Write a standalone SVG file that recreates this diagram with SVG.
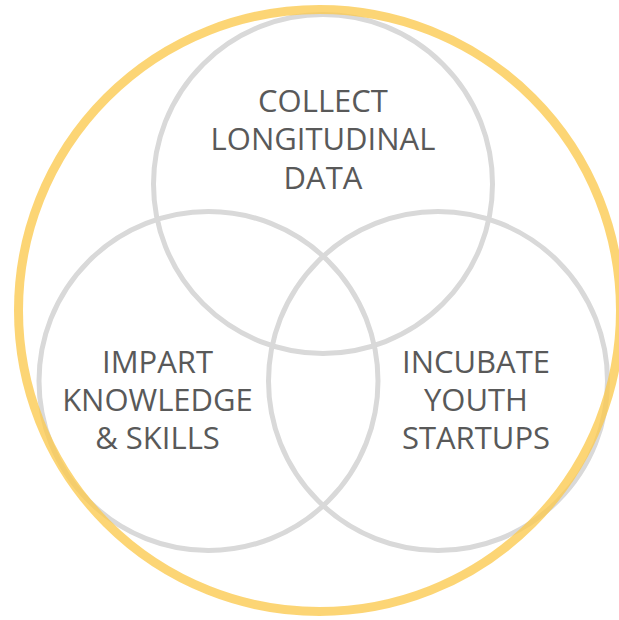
<svg xmlns="http://www.w3.org/2000/svg" width="619" height="620" viewBox="0 0 619 620">
<style>
.ring{fill:none;stroke:#d9d9d9;stroke-width:5}
.outer{fill:none;stroke:#fbc94e;stroke-width:9;opacity:0.78}
.lbl{font-family:"Open Sans","Noto Sans","Liberation Sans",sans-serif;font-size:31px;fill:#595959;text-anchor:middle}
</style>
<rect width="619" height="620" fill="#ffffff"/>
<g id="connectors"/>
<g id="node-collect">
<circle class="ring" cx="323" cy="184" r="169.5"/>
</g>
<g id="node-impart">
<circle class="ring" cx="208.5" cy="381" r="169.5"/>
</g>
<g id="node-incubate">
<circle class="ring" cx="438" cy="381" r="169.5"/>
</g>
<g id="node-outer">
<circle class="outer" cx="319.5" cy="310.5" r="301"/>
</g>
<g id="labels">
<text class="lbl" x="323" y="111.5">COLLECT</text>
<text class="lbl" x="323" y="150">LONGITUDINAL</text>
<text class="lbl" x="323" y="188.5">DATA</text>
<text class="lbl" x="157.5" y="373">IMPART</text>
<text class="lbl" x="157.5" y="411">KNOWLEDGE</text>
<text class="lbl" x="157.5" y="449">&amp; SKILLS</text>
<text class="lbl" x="476" y="373">INCUBATE</text>
<text class="lbl" x="476" y="411">YOUTH</text>
<text class="lbl" x="476" y="449">STARTUPS</text>
</g>
</svg>
